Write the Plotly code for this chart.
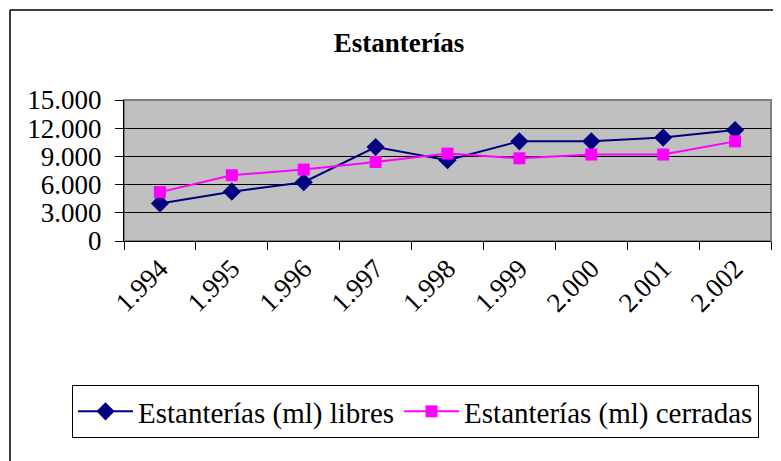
import plotly.graph_objects as go

years = ["1.994", "1.995", "1.996", "1.997", "1.998", "1.999", "2.000", "2.001", "2.002"]
libres = [4000, 5250, 6250, 10000, 8600, 10600, 10600, 11000, 11800]
cerradas = [5200, 7000, 7600, 8400, 9300, 8800, 9200, 9200, 10600]
name_libres = "Estanterías (ml) libres"
name_cerradas = "Estanterías (ml) cerradas"
title_text = "Estanterías"

W, H = 781, 461
OFF = 8  # page body margin offset
# target plot area in screenshot pixels: x 124..771, y 100..241
L, T = 124 - OFF, 100 - OFF
R = W - (771 - OFF)
B = H - (241 - OFF)
pw, ph = W - L - R, H - T - B

def px(x):
    return (x - OFF - L) / pw

def py(y):
    return (H - B - (y - OFF)) / ph

FONT = "Liberation Serif"

fig = go.Figure()
fig.add_trace(go.Scatter(
    x=years, y=libres, name=name_libres, mode="lines+markers",
    line=dict(color="#000080", width=2),
    marker=dict(symbol="diamond", size=14, color="#000080"),
))
fig.add_trace(go.Scatter(
    x=years, y=cerradas, name=name_cerradas, mode="lines+markers",
    line=dict(color="#FF00FF", width=2),
    marker=dict(symbol="square", size=12, color="#FF00FF"),
))

fig.update_layout(
    width=W, height=H,
    margin=dict(l=L, r=R, t=T, b=B, autoexpand=False),
    paper_bgcolor="white",
    plot_bgcolor="#C0C0C0",
    separators=",.",
    font=dict(family=FONT, color="black", size=24),
    title=dict(text="<b>" + title_text + "</b>", x=(399 - OFF) / W, xanchor="center",
               y=1 - (43 - OFF) / H, yanchor="middle", yref="container",
               font=dict(family=FONT, size=27, color="black")),
    showlegend=True,
    legend=dict(orientation="h", x=px(72), xanchor="left", y=py(385), yanchor="top",
                bordercolor="black", borderwidth=1, bgcolor="white",
                font=dict(family=FONT, size=29, color="black"),
                itemwidth=55, tracegroupgap=0),
    xaxis=dict(type="category", tickangle=-45, ticks="outside", ticklen=8,
               tickson="boundaries", tickcolor="black", showline=True,
               linecolor="black", linewidth=1, showgrid=False, zeroline=False,
               tickfont=dict(family=FONT, size=27, color="black"),
               range=[-0.5, 8.5]),
    yaxis=dict(range=[0, 15000], dtick=3000, tickformat=",d", ticks="outside",
               ticklen=8, tickcolor="black", showline=True, linecolor="black",
               linewidth=1, showgrid=True, gridcolor="black", gridwidth=1,
               zeroline=False, ticklabelstandoff=8,
               tickfont=dict(family=FONT, size=27, color="black")),
    shapes=[
        dict(type="rect", xref="paper", yref="paper", x0=0, x1=1, y0=0, y1=1,
             line=dict(color="#808080", width=2), layer="below"),
        dict(type="line", xref="paper", yref="paper", x0=px(10), x1=px(800),
             y0=py(10), y1=py(10), line=dict(color="black", width=1.5)),
        dict(type="line", xref="paper", yref="paper", x0=px(10), x1=px(10),
             y0=py(10), y1=py(480), line=dict(color="black", width=1.5)),
    ],
)

fig.write_html("out.html")
